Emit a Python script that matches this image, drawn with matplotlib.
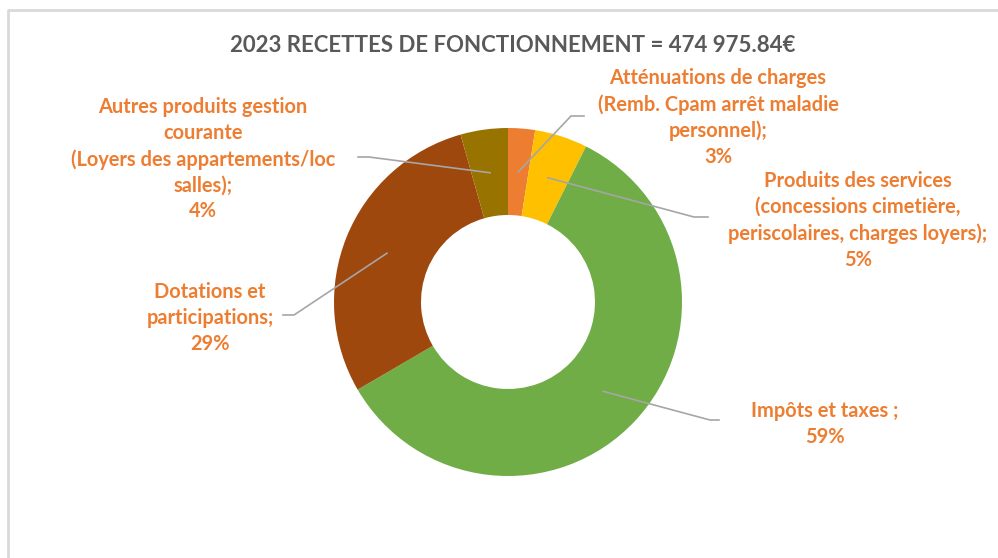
import matplotlib.pyplot as plt
from matplotlib.lines import Line2D
import numpy as np

# données du graphique
categories = [
    "Atténuations de charges\n(Remb. Cpam arrêt maladie\npersonnel);\n3%",
    "Produits des services\n(concessions cimetière,\nperiscolaires, charges loyers);\n5%",
    "Impôts et taxes ;\n59%",
    "Dotations et\nparticipations;\n29%",
    "Autres produits gestion\ncourante\n(Loyers des appartements/loc\nsalles);\n4%",
]
values = [2.5, 4.9, 59.2, 29.0, 4.4]
colors = ["#ED7D31", "#FFC000", "#70AD47", "#9E480E", "#997300"]

W, H = 998, 558
plt.rcParams['font.family'] = ['Lato', 'DejaVu Sans']

fig = plt.figure(figsize=(W / 100, H / 100), dpi=100)
ax = fig.add_axes([0, 0, 1, 1])
ax.set_xlim(0, W)
ax.set_ylim(0, H)
ax.set_aspect('equal')
ax.axis('off')

cx, cy, R = 508, H - 302, 174
wedges, _ = ax.pie(values, colors=colors, startangle=90, counterclock=False,
                   center=(cx, cy), radius=R,
                   wedgeprops=dict(width=R * 0.5, edgecolor='none'))
ax.set_xlim(0, W)
ax.set_ylim(0, H)

# positions des étiquettes (pixels, origine en haut, centre de la 1re ligne)
label_pos = [(718, 77), (858, 180), (825, 410), (210, 291), (203, 106)]
elbows = [((571, 116), (584, 116)), ((694, 217), (708, 217)),
          ((710, 420), (719, 420)), ((294, 315), (283, 315)),
          ((369, 157), (358, 157))]

for w, text, (lx, ly), (p1, p2) in zip(wedges, categories, label_pos, elbows):
    ang = np.deg2rad((w.theta1 + w.theta2) / 2)
    sx = cx + 0.75 * R * np.cos(ang)
    sy = cy + 0.75 * R * np.sin(ang)
    ax.add_line(Line2D([sx, p1[0], p2[0]], [sy, H - p1[1], H - p2[1]],
                       color='#A6A6A6', lw=1.2))
    ax.text(lx, H - ly + 9, text, ha='center', va='top', color='#ED7D31',
            fontsize=14.4, fontweight='bold', linespacing=1.37)

ax.text(513, H - 45, "2023 RECETTES DE FONCTIONNEMENT = 474 975.84€",
        ha='center', va='center', color='#595959', fontsize=16,
        fontweight='bold')

# bordure de la zone de graphique
ax.add_line(Line2D([8, 8, W], [0, H - 10, H - 10], color='#D9D9D9', lw=2))

fig.savefig("out.png", dpi=100)
plt.close(fig)
